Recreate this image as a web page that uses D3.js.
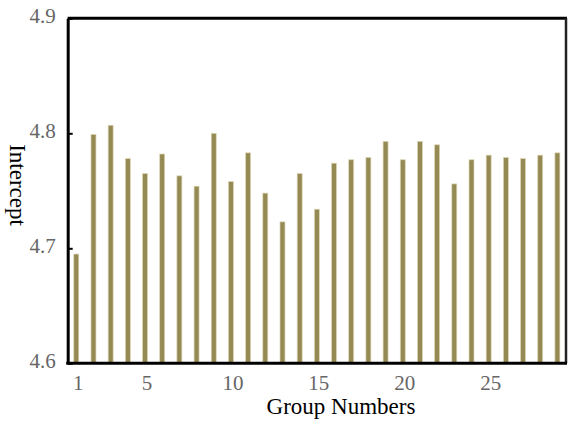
<!DOCTYPE html>
<html>
<head>
<meta charset="utf-8">
<script src="https://cdn.jsdelivr.net/npm/d3@7"></script>
<style>
  html, body { margin: 0; padding: 0; background: #fff; }
  svg { display: block; }
</style>
</head>
<body>
<svg id="chart" width="570" height="425"></svg>
<script>
// Intercept estimate for each group
const groups = d3.range(1, 30);
const intercepts = [
  4.695, 4.799, 4.807, 4.778, 4.765, 4.782, 4.763, 4.754, 4.800, 4.758,
  4.783, 4.748, 4.723, 4.765, 4.734, 4.774, 4.777, 4.779, 4.793, 4.777,
  4.793, 4.790, 4.756, 4.777, 4.781, 4.779, 4.778, 4.781, 4.783
];
const xTickValues = [1, 5, 10, 15, 20, 25];
const yTickValues = [4.6, 4.7, 4.8, 4.9];

const svg = d3.select("#chart");
const plotLeft = 67.7, plotRight = 566, plotTop = 18.3, plotBottom = 363.3;

const x = d3.scaleBand()
  .domain(groups)
  .range([plotLeft, plotRight])
  .paddingInner(0.71)
  .paddingOuter(0.355);

const y = d3.scaleLinear()
  .domain([4.6, 4.9])
  .range([plotBottom, plotTop]);

// bars
svg.append("g")
  .selectAll("rect")
  .data(groups.map((g, i) => ({ g, v: intercepts[i] })))
  .join("rect")
  .attr("x", d => x(d.g))
  .attr("width", x.bandwidth())
  .attr("y", d => y(d.v))
  .attr("height", d => y(4.6) - y(d.v))
  .attr("fill", "#968a54")
  .attr("stroke", "#ddd6b6")
  .attr("stroke-width", 0.7);

// frame: top and right edges
svg.append("line")
  .attr("x1", plotLeft).attr("x2", plotRight + 1)
  .attr("y1", plotTop).attr("y2", plotTop)
  .attr("stroke", "#000").attr("stroke-width", 3);
svg.append("line")
  .attr("x1", plotRight).attr("x2", plotRight)
  .attr("y1", plotTop).attr("y2", plotBottom)
  .attr("stroke", "#222").attr("stroke-width", 2.5);

// y axis
const yAxis = d3.axisLeft(y)
  .tickValues(yTickValues)
  .tickFormat(d3.format(".1f"))
  .tickSizeInner(-5)
  .tickSizeOuter(0)
  .tickPadding(12);
const gy = svg.append("g")
  .attr("transform", `translate(${plotLeft},0)`)
  .call(yAxis);
gy.select(".domain").attr("stroke", "#000").attr("stroke-width", 3);
gy.selectAll(".tick line").attr("stroke", "#000").attr("stroke-width", 2);
gy.selectAll(".tick text")
  .attr("font-family", "'Liberation Serif', 'Times New Roman', serif")
  .attr("font-size", 21)
  .attr("fill", "#666")
  .attr("dy", "0.2em");

// x axis
const xAxis = d3.axisBottom(x)
  .tickValues(xTickValues)
  .tickSize(0)
  .tickPadding(12);
const gx = svg.append("g")
  .attr("transform", `translate(0,${plotBottom})`)
  .call(xAxis);
gx.select(".domain").attr("stroke", "#000").attr("stroke-width", 3)
  .attr("d", `M${plotLeft - 1.5},0H${plotRight + 1}`);
gx.selectAll(".tick text")
  .attr("font-family", "'Liberation Serif', 'Times New Roman', serif")
  .attr("font-size", 21)
  .attr("fill", "#666")
  .attr("transform", "translate(2,0)");

// axis titles
svg.append("text")
  .attr("x", 341)
  .attr("y", 414)
  .attr("text-anchor", "middle")
  .attr("font-family", "'Liberation Serif', 'Times New Roman', serif")
  .attr("font-size", 23)
  .attr("fill", "#000")
  .text("Group Numbers");

svg.append("text")
  .attr("transform", "translate(10,185) rotate(90)")
  .attr("text-anchor", "middle")
  .attr("font-family", "'Liberation Serif', 'Times New Roman', serif")
  .attr("font-size", 23)
  .attr("fill", "#000")
  .text("Intercept");
</script>
</body>
</html>
